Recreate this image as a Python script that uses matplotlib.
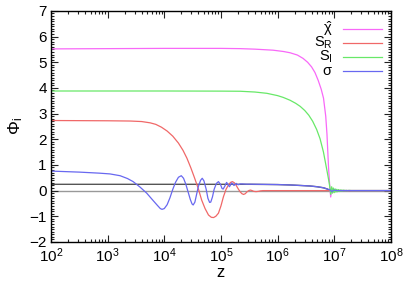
import numpy as np
import matplotlib
matplotlib.use('Agg')
import matplotlib.pyplot as plt
from matplotlib.ticker import MultipleLocator, LogLocator, NullFormatter

plt.rcParams['font.family'] = ['Liberation Sans', 'DejaVu Sans']
plt.rcParams['mathtext.fontset'] = 'custom'
plt.rcParams['mathtext.rm'] = 'Liberation Sans'
plt.rcParams['mathtext.it'] = 'Liberation Sans'

# log10(z) positions and values
chi_lz = [2.0, 3.0, 4.0, 5.0, 5.34, 5.6, 5.92, 6.1, 6.22, 6.35, 6.45, 6.53, 6.60,
          6.66, 6.716, 6.77, 6.811, 6.85, 6.872, 6.899, 6.92, 6.938, 6.956, 6.982,
          7.035, 8.0]
chi_val = [5.52, 5.53, 5.54, 5.54, 5.53, 5.51, 5.47, 5.42, 5.37, 5.28, 5.15, 5.0,
           4.82, 4.6, 4.3, 3.95, 3.6, 2.9, 2.2, 0.93, 0.2, -0.25, 0.1, -0.05,
           0.0, 0.0]

si_lz = [2.0, 4.0, 5.0, 5.34, 5.6, 5.81, 6.0, 6.1, 6.22, 6.32, 6.40, 6.48, 6.55,
         6.62, 6.69, 6.75, 6.81, 6.84, 6.87, 6.895, 6.917, 6.938, 6.955, 6.97,
         6.985, 7.0, 7.015, 7.03, 7.045, 7.06, 7.075, 7.09, 7.105, 7.12, 7.135,
         7.15, 7.17, 7.19, 7.21, 7.23, 7.26, 7.3, 8.0]
si_val = [3.88, 3.88, 3.875, 3.87, 3.84, 3.79, 3.70, 3.63, 3.52, 3.40, 3.28, 3.12,
          2.94, 2.70, 2.38, 2.02, 1.50, 1.15, 0.8, 0.5, 0.22, -0.15, 0.15, -0.1,
          0.1, -0.08, 0.07, -0.06, 0.05, -0.045, 0.04, -0.035, 0.03, -0.03, 0.025,
          -0.02, 0.02, -0.015, 0.012, -0.01, 0.008, 0.0, 0.0]

sr_lz = [2.0, 3.0, 3.4, 3.6, 3.75, 3.85, 3.95, 4.05, 4.15, 4.25, 4.33, 4.40, 4.47,
         4.53, 4.60, 4.66, 4.72, 4.78, 4.83, 4.87, 4.91, 4.956, 5.0, 5.044, 5.09,
         5.133, 5.17, 5.203, 5.24, 5.27, 5.31, 5.34, 5.37, 5.40, 5.43, 5.46, 5.49,
         5.52, 5.55, 5.58, 5.62, 5.66, 5.70, 5.745, 8.0]
sr_val = [2.73, 2.72, 2.71, 2.69, 2.64, 2.58, 2.47, 2.32, 2.12, 1.85, 1.57, 1.26,
          0.88, 0.52, 0.08, -0.37, -0.70, -0.95, -1.04, -1.05, -1.0, -0.88, -0.6,
          -0.24, 0.05, 0.22, 0.32, 0.35, 0.3, 0.2, 0.05, -0.05, -0.12, -0.15,
          -0.12, -0.05, 0.0, 0.02, 0.0, -0.03, -0.04, -0.03, -0.01, 0.0, 0.0]

sig_lz = [2.0, 2.5, 2.85, 3.04, 3.22, 3.35, 3.45, 3.57, 3.69, 3.80, 3.88, 3.93,
          3.96, 4.0, 4.05, 4.10, 4.15, 4.20, 4.25, 4.30, 4.34, 4.38, 4.42, 4.46,
          4.49, 4.51, 4.54, 4.57, 4.60, 4.64, 4.67, 4.70, 4.74, 4.77, 4.80, 4.82,
          4.85, 4.88, 4.92, 4.956, 4.99, 5.02, 5.04, 5.07, 5.10, 5.13, 5.15, 5.17,
          5.19, 5.21, 5.23, 5.25, 5.27, 5.29, 5.31, 5.34, 5.375, 5.45, 5.52, 6.0,
          6.22, 6.4, 6.57, 6.7, 6.81, 6.88, 6.93, 6.96, 6.99, 7.05, 8.0]
sig_val = [0.76, 0.72, 0.68, 0.65, 0.58, 0.47, 0.35, 0.14, -0.1, -0.38, -0.58,
           -0.70, -0.73, -0.7, -0.55, -0.28, 0.05, 0.33, 0.52, 0.58, 0.48, 0.25,
           -0.05, -0.35, -0.52, -0.56, -0.45, -0.15, 0.15, 0.40, 0.48, 0.38, 0.05,
           -0.3, -0.46, -0.45, -0.25, 0.05, 0.28, 0.35, 0.25, 0.08, 0.06, 0.18,
           0.32, 0.22, 0.15, 0.22, 0.30, 0.26, 0.2, 0.24, 0.28, 0.24, 0.23, 0.26,
           0.26, 0.25, 0.25, 0.235, 0.22, 0.2, 0.18, 0.15, 0.11, 0.06, 0.02, -0.04,
           0.02, 0.0, 0.0]

ref_lz = [2.0, 5.52, 6.0, 6.22, 6.4, 6.57, 6.7, 6.81, 6.88, 6.93, 8.0]
ref_val = [0.245, 0.245, 0.235, 0.22, 0.2, 0.18, 0.15, 0.11, 0.06, 0.0, 0.0]

zero_lz = [2.0, 8.0]
zero_val = [0.0, 0.0]

labels = [r'$\hat{\chi}$', r'$\mathrm{S_R}$', r'$\mathrm{S_I}$', r'$\sigma$']
colors = ['#f868f8', '#f06868', '#68e868', '#6868f0']


def to_z(lz):
    return 10.0 ** np.asarray(lz)


fig = plt.figure(figsize=(4.08, 2.87), dpi=100)
ax = fig.add_axes([0.125, 0.157, 0.833, 0.805])

ax.plot(to_z(zero_lz), zero_val, color='#999999', lw=1.0, zorder=1)
ax.plot(to_z(ref_lz), ref_val, color='#555555', lw=1.0, zorder=1)

series = [(chi_lz, chi_val), (sr_lz, sr_val), (si_lz, si_val), (sig_lz, sig_val)]
for (lz, val), col in zip(series, colors):
    ax.plot(to_z(lz), val, color=col, lw=0.9, zorder=2)

# gnuplot-style key: label right-aligned, sample line after it
for i, (lab, col) in enumerate(zip(labels, colors)):
    yk = 0.922 - i * 0.0606
    ax.text(0.829, yk, lab, transform=ax.transAxes, ha='right', va='center',
            fontsize=10.5)
    ax.plot([0.859, 0.974], [yk, yk], transform=ax.transAxes, color=col, lw=0.9)

ax.set_xscale('log')
ax.set_xlim(1e2, 1e8)
ax.set_ylim(-2, 7)
ax.yaxis.set_major_locator(MultipleLocator(1))
ax.yaxis.set_minor_locator(MultipleLocator(0.1))
ax.xaxis.set_major_locator(LogLocator(base=10, numticks=10))
ax.xaxis.set_minor_locator(LogLocator(base=10, subs=np.arange(2, 10), numticks=20))
ax.xaxis.set_minor_formatter(NullFormatter())
ax.tick_params(which='both', direction='in', top=True, right=True, labelsize=11,
               width=0.8, color='#222222')
ax.tick_params(which='major', length=5, pad=3)
ax.tick_params(which='minor', length=2.5)
for s in ax.spines.values():
    s.set_linewidth(1.0)

ax.set_xlabel('z', fontsize=12, labelpad=0)
ax.set_ylabel(r'$\Phi_\mathrm{i}$', fontsize=12.5, labelpad=3)

fig.savefig('out.png', dpi=100)
